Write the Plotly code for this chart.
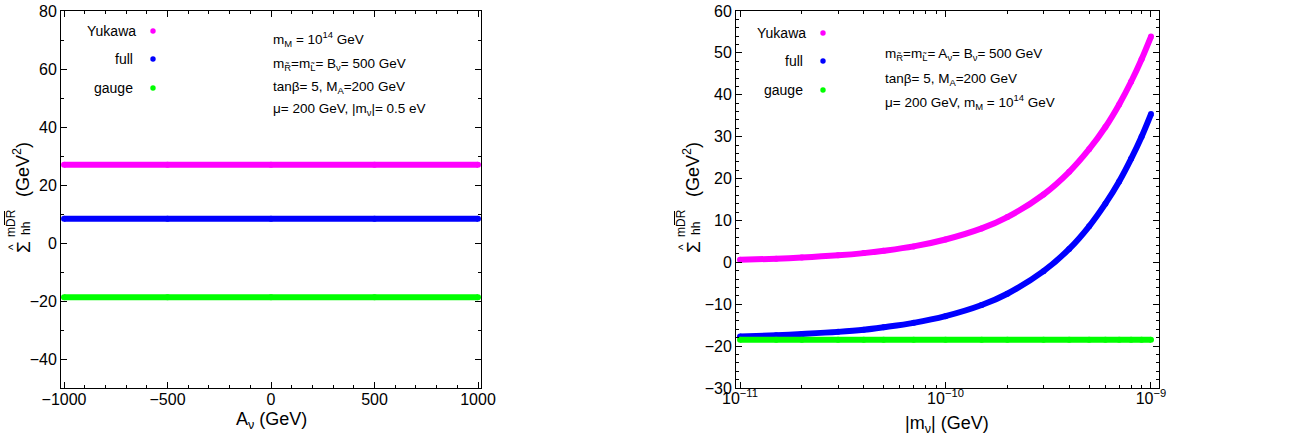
import plotly.graph_objects as go

# ---------------- data ----------------
# left panel: A_nu scan (GeV)
a_nu = [-1000, -500, 0, 500, 1000]
left_yukawa = [27.0, 27.0, 27.0, 27.0, 27.0]
left_full = [8.4, 8.4, 8.4, 8.4, 8.4]
left_gauge = [-18.7, -18.7, -18.7, -18.7, -18.7]

# right panel: |m_nu| scan (GeV)
m_nu = [1e-11, 1.5e-11, 2e-11, 3e-11, 4e-11, 5e-11, 7e-11, 1e-10, 1.5e-10,
        2e-10, 3e-10, 4e-10, 5e-10, 6e-10, 7e-10, 8e-10, 9e-10, 1e-9]
right_yukawa = [0.6, 0.87, 1.14, 1.67, 2.2, 2.75, 3.8, 5.45, 8.1,
                10.8, 16.2, 21.6, 27.0, 32.3, 37.7, 43.1, 48.5, 53.9]
right_full = [-17.7, -17.4, -17.1, -16.6, -16.1, -15.5, -14.45, -12.85, -10.2,
              -7.5, -2.1, 3.2, 8.6, 14.0, 19.3, 24.7, 30.0, 35.4]
right_gauge = [-18.5] * len(m_nu)

series_names = ["Yukawa", "full", "gauge"]
colors = {"Yukawa": "#ff00ff", "full": "#0000ff", "gauge": "#00ff00"}

left_ticks = [-1000, -500, 0, 500, 1000]
right_xticks = [1e-11, 1e-10, 1e-9]
right_xticktext = ["10<sup>\u221211</sup>", "10<sup>\u221210</sup>", "10<sup>\u22129</sup>"]
right_minor = [k * 1e-11 for k in range(2, 10)] + [k * 1e-10 for k in range(2, 10)]

W, H = 1295, 440
def px(x):
    return x / W
def py(y):
    return 1 - y / H

TXT_FONT = "Liberation Sans, Arial, sans-serif"
TICK_FONT = "Liberation Sans, Arial, sans-serif"

fig = go.Figure()

def add_series(x, ys, xa, ya, shape="linear"):
    for name, y in zip(series_names, ys):
        fig.add_trace(go.Scatter(
            x=x, y=y, mode="lines+markers", name=name, showlegend=False,
            line=dict(color=colors[name], width=6, shape=shape),
            marker=dict(color=colors[name], size=6, line=dict(width=0)),
            xaxis=xa, yaxis=ya))

add_series(a_nu, [left_yukawa, left_full, left_gauge], "x", "y")
add_series(m_nu, [right_yukawa, right_full, right_gauge], "x2", "y2", shape="spline")

axis_common = dict(showline=True, linecolor="black", linewidth=1, mirror="ticks",
                   ticks="inside", ticklen=6, tickwidth=1, tickcolor="black",
                   showgrid=False, zeroline=False, automargin=False,
                   tickfont=dict(family=TICK_FONT, size=16, color="black"))
minor_common = dict(ticks="inside", ticklen=3, tickwidth=1, tickcolor="black", showgrid=False)

fig.update_layout(
    width=W, height=H, margin=dict(l=0, r=0, t=0, b=0, pad=0), autosize=False,
    paper_bgcolor="white", plot_bgcolor="white", showlegend=False,
    xaxis=dict(domain=[px(61), px(481)], range=[-1014.5, 1014.5], anchor="y",
               tickmode="array", tickvals=left_ticks, ticklabelstandoff=-3,
               minor=dict(dtick=100, tick0=0, **minor_common), **axis_common),
    yaxis=dict(domain=[py(388), py(11)], range=[-50, 80], anchor="x",
               dtick=20, tick0=0,
               minor=dict(dtick=10, tick0=0, **minor_common), **axis_common),
    xaxis2=dict(domain=[px(736), px(1159)], type="log", range=[-11.0195, -8.961],
                anchor="y2", tickmode="array", tickvals=right_xticks, ticktext=right_xticktext,
                ticklabelstandoff=-4,
                minor=dict(tickmode="array", tickvals=right_minor, **minor_common),
                **axis_common),
    yaxis2=dict(domain=[py(388), py(11)], range=[-30, 60], anchor="x2",
                dtick=10, tick0=0,
                minor=dict(dtick=2, tick0=0, **minor_common), **axis_common),
)

annotations = []
shapes = []

def ann(text, x, y, size, xanchor="center", yanchor="middle", angle=0, family=TXT_FONT):
    annotations.append(dict(text=text, x=px(x), y=py(y), xref="paper", yref="paper",
                            xanchor=xanchor, yanchor=yanchor, showarrow=False,
                            textangle=angle, font=dict(family=family, size=size, color="black")))

# axis titles
ann("A<sub>\u03bd</sub> (GeV)", 271, 420, 18)
ann("|m<sub>\u03bd</sub>| (GeV)", 947, 424, 18)

# y titles (both panels)
for dx in (0, 670):
    ann("\u03a3", 23 + dx, 247, 19, angle=-90)
    ann("^", 13 + dx, 247, 12, angle=-90)
    ann("hh", 26 + dx, 229, 12, angle=-90)
    ann("mDR", 11 + dx, 223, 12, angle=-90)
    ann("(GeV<sup>2</sup>)", 21 + dx, 170, 18, angle=-90)
    shapes.append(dict(type="line", xref="paper", yref="paper",
                       x0=px(4.5 + dx), x1=px(4.5 + dx), y0=py(211), y1=py(225),
                       line=dict(color="black", width=1)))

# legends
legend_left = [(138, 31), (135, 59), (135, 88)]
legend_right = [(808, 33), (805, 61), (805, 90)]
for (pos, dotx) in ((legend_left, 153), (legend_right, 823)):
    for name, (tx, ty) in zip(series_names, pos):
        ann(name, tx, ty, 14, xanchor="right")
        r = 2.7
        shapes.append(dict(type="circle", xref="paper", yref="paper",
                           x0=px(dotx - r), x1=px(dotx + r), y0=py(ty - r), y1=py(ty + r),
                           fillcolor=colors[name], line=dict(width=0)))

# parameter text
left_params = [
    ("m<sub>M</sub> = 10<sup>14</sup> GeV", 39),
    ("m<sub>R\u0303</sub>=m<sub>L\u0303</sub>= B<sub>\u03bd</sub>= 500 GeV", 64),
    ("tan\u03b2= 5, M<sub>A</sub>=200 GeV", 87),
    ("\u03bc= 200 GeV, |m<sub>\u03bd</sub>|= 0.5 eV", 109.5),
]
for t, y in left_params:
    ann(t, 271, y, 13.5, xanchor="left")
right_params = [
    ("m<sub>R\u0303</sub>=m<sub>L\u0303</sub>= A<sub>\u03bd</sub>= B<sub>\u03bd</sub>= 500 GeV", 54.5),
    ("tan\u03b2= 5, M<sub>A</sub>=200 GeV", 79),
    ("\u03bc= 200 GeV, m<sub>M</sub> = 10<sup>14</sup> GeV", 102.5),
]
for t, y in right_params:
    ann(t, 883, y, 13.5, xanchor="left")

fig.update_layout(annotations=annotations, shapes=shapes)
fig.write_html("out.html")
